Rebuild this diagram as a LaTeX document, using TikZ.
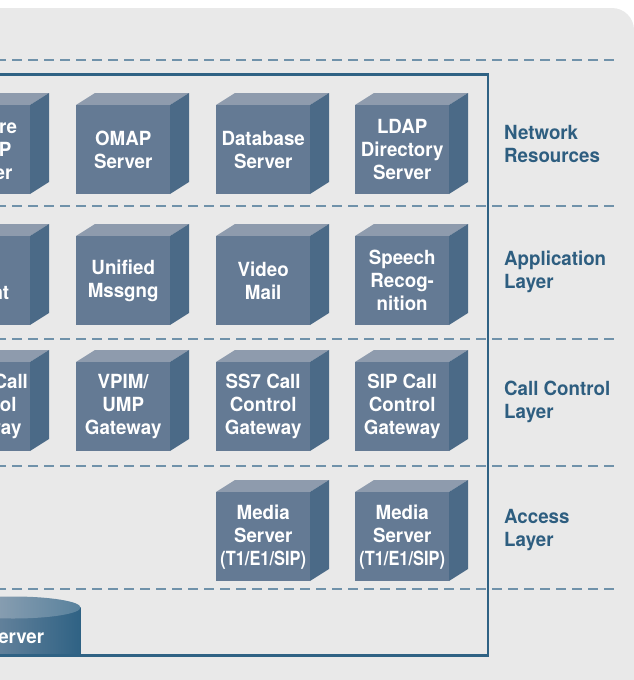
\documentclass[tikz,border=0pt]{standalone}
\usepackage{fontspec}
\usepackage{xcolor}
\usepackage{tikz}
\usetikzlibrary{positioning}

\newfontfamily\cnfont{TeX Gyre Heros}[FakeStretch=0.96]
\newfontfamily\cnnarrow{TeX Gyre Heros}[FakeStretch=0.84]

\definecolor{bggray}{HTML}{E9E9E9}
\definecolor{facefront}{HTML}{647A94}
\definecolor{facetop}{HTML}{8E9BAD}
\definecolor{faceside}{HTML}{4B6A87}
\definecolor{frameblue}{HTML}{2F6284}
\definecolor{dashblue}{HTML}{7092AA}
\definecolor{labelblue}{HTML}{2E5E80}

\tikzset{
  cubefront/.style={fill=facefront, text=white, align=center, anchor=north west,
    minimum width=94pt, minimum height=89pt, inner sep=0pt,
    font=\cnfont\bfseries\fontsize{19.5}{23}\selectfont},
  layerlabel/.style={text=labelblue, align=left, anchor=base west, inner sep=0pt,
    font=\cnfont\bfseries\fontsize{19.5}{23}\selectfont},
  layersep/.style={dashblue, line width=2pt, dash pattern=on 10pt off 6pt},
}

% server block: name, x, y (front top left), text
\newcommand{\srvcube}[4]{%
  \fill[facetop] (#2,#3) -- ++(19,-12) -- ++(94,0) -- ++(-19,12) -- cycle;
  \fill[faceside] (#2+94,#3) -- ++(19,-12) -- ++(0,89) -- ++(-19,12) -- cycle;
  \node[cubefront] (#1) at (#2,#3) {#4};
}

\begin{document}
\begin{tikzpicture}[x=1pt, y=-1pt]
  \useasboundingbox (0,0) rectangle (634,680);
  \clip (0,0) rectangle (634,680);

  % Backdrop
  \fill[bggray, rounded corners=22pt] (-40,8) rectangle (634,720);

  % Layer separators
  \foreach \yy in {60,206,339,466,589}
    \draw[layersep] (-4,\yy) -- (617,\yy);

  % Network resources
  \srvcube{featsrv}{-64}{105}{Feature\\MGCP\\Server}
  \srvcube{omap}{76}{105}{OMAP\\Server}
  \srvcube{dbsrv}{216}{105}{Database\\Server}
  \srvcube{ldap}{355}{105}{LDAP\\Directory\\Server}

  % Application layer
  \srvcube{sipclient}{-64}{236}{SIP\\Client}
  \srvcube{unimsg}{76}{236}{Unified\\Mssgng}
  \srvcube{vmail}{216}{236}{Video\\Mail}
  \srvcube{speech}{355}{236}{Speech\\Recog-\\nition}

  % Call control layer
  \srvcube{hgw}{-64}{362}{H.323 Call\\Control\\Gateway}
  \srvcube{vpim}{76}{362}{VPIM/\\UMP\\Gateway}
  \srvcube{sssgw}{216}{362}{SS7 Call\\Control\\Gateway}
  \srvcube{sipgw}{355}{362}{SIP Call\\Control\\Gateway}

  % Access layer
  \srvcube{media1}{216}{492}{Media\\Server\\{\cnnarrow\bfseries(T1/E1/SIP)}}
  \srvcube{media2}{355}{492}{Media\\Server\\{\cnnarrow\bfseries(T1/E1/SIP)}}

  % Legacy server drum
  \shade[left color=facefront!80!white, middle color=facetop!60!white, right color=frameblue]
    (-54,607.5) rectangle (80.5,655.5);
  \shade[left color=facetop!80!white, middle color=facetop!40!white, right color=frameblue!80!white]
    (13,607.5) ellipse [x radius=67.5, y radius=11];
  \node[text=white, anchor=base, inner sep=0pt, font=\cnfont\bfseries\fontsize{19.5}{23}\selectfont]
    (drumsrv) at (15,643) {Server};

  % Frame
  \draw[frameblue, line width=2.5pt] (-10,74.5) -- (488,74.5) -- (488,655.5) -- (-10,655.5);

  % Layer names
  \node[layerlabel] (netres) at (504,162) {Network\\Resources};
  \node[layerlabel] (applayer) at (504,288) {Application\\Layer};
  \node[layerlabel] (ctllayer) at (504,418) {Call Control\\Layer};
  \node[layerlabel] (acclayer) at (504,546) {Access\\Layer};
\end{tikzpicture}
\end{document}
